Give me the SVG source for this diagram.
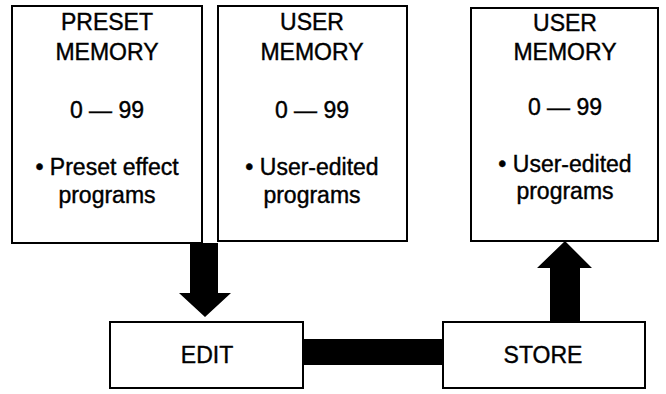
<svg xmlns="http://www.w3.org/2000/svg" width="666" height="394" viewBox="0 0 666 394">
<style>
.box{fill:#fff;stroke:#000;stroke-width:2}
.t{font-family:"Liberation Sans",Arial,sans-serif;font-size:23px;fill:#000;text-anchor:middle;stroke:#000;stroke-width:0.4}
.c{fill:#000}
</style>
<rect width="666" height="394" fill="#fff"/>
<g id="preset-memory">
<rect class="box" x="12" y="6" width="190" height="237"/>
<text class="t" x="107" y="30">PRESET</text>
<text class="t" x="107" y="60">MEMORY</text>
<text class="t" x="107" y="118">0 — 99</text>
<text class="t" x="107" y="175">• Preset effect</text>
<text class="t" x="107" y="203">programs</text>
</g>
<g id="user-memory-1">
<rect class="box" x="218" y="6" width="189" height="235"/>
<text class="t" x="312" y="30">USER</text>
<text class="t" x="312" y="60">MEMORY</text>
<text class="t" x="312" y="118">0 — 99</text>
<text class="t" x="312" y="175">• User-edited</text>
<text class="t" x="312" y="203">programs</text>
</g>
<g id="user-memory-2">
<rect class="box" x="471" y="8" width="187" height="233"/>
<text class="t" x="565" y="31">USER</text>
<text class="t" x="565" y="60">MEMORY</text>
<text class="t" x="565" y="115">0 — 99</text>
<text class="t" x="565" y="172">• User-edited</text>
<text class="t" x="565" y="199">programs</text>
</g>
<g id="edit">
<rect class="box" x="110" y="322" width="193" height="66"/>
<text class="t" x="207" y="363">EDIT</text>
</g>
<g id="store">
<rect class="box" x="443" y="322" width="202" height="66"/>
<text class="t" x="543" y="363">STORE</text>
</g>
<g id="connectors">
<polygon class="c" points="190,243 218,243 218,293 231,293 205,317 179,293 190,293"/>
<rect class="c" x="303" y="339" width="140" height="26"/>
<polygon class="c" points="550,322 580,322 580,268 592,268 565,241 537,268 550,268"/>
</g>
</svg>
